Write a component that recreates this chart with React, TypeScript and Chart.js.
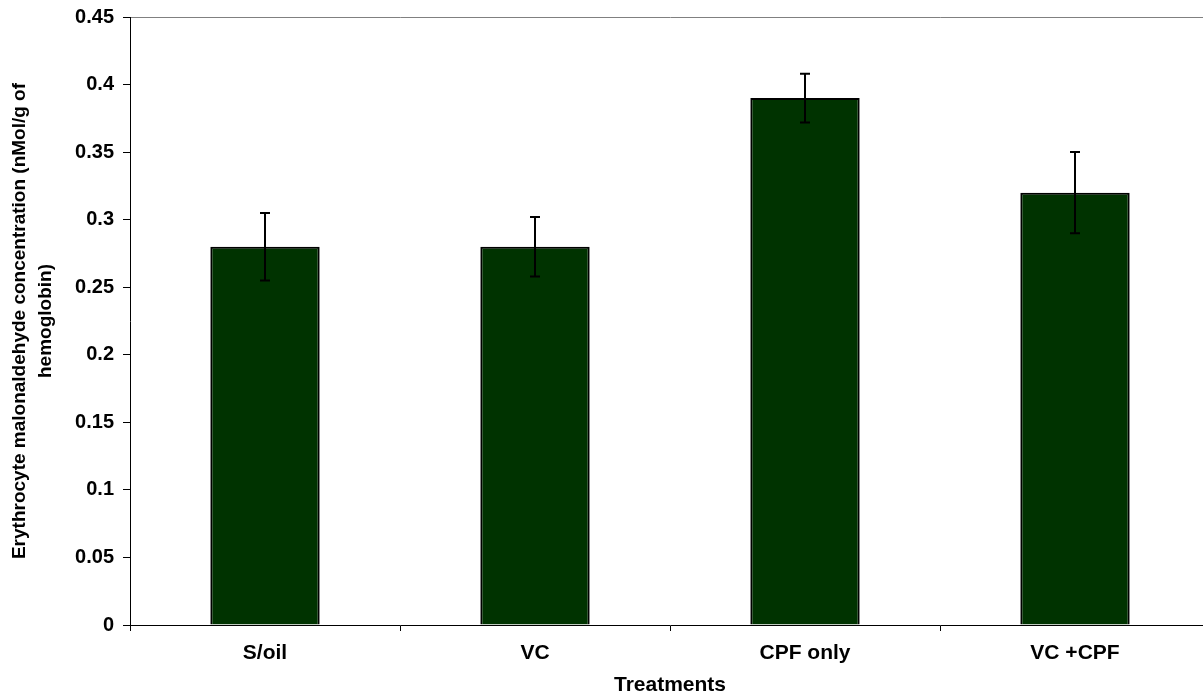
import React, { useEffect, useRef } from "react";
import { Chart, registerables } from "chart.js";

Chart.register(...registerables);

const categories = ["S/oil", "VC", "CPF only", "VC +CPF"];
const meanValues = [0.28, 0.28, 0.39, 0.32];
const errorValues = [0.025, 0.022, 0.018, 0.03];
const yTickMax = 0.45;
const yTickStep = 0.05;

const FONT = "'Liberation Sans', Arial, sans-serif";

const errorBarPlugin = {
  id: "errorBars",
  afterDatasetsDraw(chart: any) {
    const meta = chart.getDatasetMeta(0);
    const yScale = chart.scales.y;
    const ctx = chart.ctx;
    ctx.save();
    ctx.strokeStyle = "#000";
    ctx.lineWidth = 2;
    meta.data.forEach((bar: any, i: number) => {
      const x = bar.x;
      const top = yScale.getPixelForValue(meanValues[i] + errorValues[i]);
      const bot = yScale.getPixelForValue(meanValues[i] - errorValues[i]);
      ctx.beginPath();
      ctx.moveTo(x, top);
      ctx.lineTo(x, bot);
      ctx.moveTo(x - 5, top);
      ctx.lineTo(x + 5, top);
      ctx.moveTo(x - 5, bot);
      ctx.lineTo(x + 5, bot);
      ctx.stroke();
    });
    ctx.restore();
  },
};

export default function App() {
  const ref = useRef<HTMLCanvasElement | null>(null);
  useEffect(() => {
    if (!ref.current) return;
    const chart = new Chart(ref.current, {
      type: "bar",
      data: {
        labels: categories,
        datasets: [
          {
            data: meanValues,
            backgroundColor: "#003300",
            borderColor: "#000000",
            borderWidth: 2,
            inflateAmount: 0,
            categoryPercentage: 0.405,
            barPercentage: 1,
          } as any,
        ],
      },
      options: {
        animation: false,
        responsive: false,
        maintainAspectRatio: false,
        layout: { padding: { top: 17, right: 10, left: 0, bottom: 0 } },
        plugins: {
          legend: { display: false },
          tooltip: { enabled: false },
        },
        scales: {
          x: {
            grid: {
              offset: true,
              drawOnChartArea: false,
              tickLength: 6,
              color: "#000",
            },
            border: { color: "#000", width: 1 },
            ticks: {
              color: "#000",
              font: { family: FONT, size: 21, weight: "bold" },
              padding: 10,
            },
            title: {
              display: true,
              text: "Treatments",
              color: "#000",
              font: { family: FONT, size: 21, weight: "bold", lineHeight: 1 },
              padding: { top: 0, bottom: 0 },
            },
            afterFit: (scale: any) => {
              scale.height = 71;
              scale.paddingLeft = 0;
              scale.paddingRight = 0;
            },
          },
          y: {
            min: 0,
            max: yTickMax,
            grid: {
              drawOnChartArea: true,
              color: (c: any) =>
                c.tick && Math.abs(c.tick.value - yTickMax) < 1e-9 ? "#808080" : "rgba(0,0,0,0)",
              tickColor: "#000",
              tickLength: 7,
            },
            border: { color: "#000", width: 1 },
            ticks: {
              stepSize: yTickStep,
              color: "#000",
              padding: 9,
              font: { family: FONT, size: 20, weight: "bold" },
              callback: (v: any) => String(Number(Number(v).toFixed(2))),
            },
            title: {
              display: true,
              text: ["Erythrocyte malonaldehyde concentration (nMol/g of", "hemoglobin)"],
              color: "#000",
              font: { family: FONT, size: 19, weight: "bold", lineHeight: 1.4 },
              padding: { top: 6, bottom: 0 },
            },
            afterFit: (scale: any) => {
              scale.width = 130;
              scale.paddingTop = 0;
              scale.paddingBottom = 0;
            },
          },
        },
      },
      plugins: [errorBarPlugin],
    });
    return () => chart.destroy();
  }, []);
  return (
    <div
      style={{
        position: "fixed",
        left: 0,
        top: 0,
        width: 1203,
        height: 696,
        overflow: "hidden",
        background: "#fff",
      }}
    >
      <canvas ref={ref} width={1220} height={696} style={{ display: "block" }} />
    </div>
  );
}
